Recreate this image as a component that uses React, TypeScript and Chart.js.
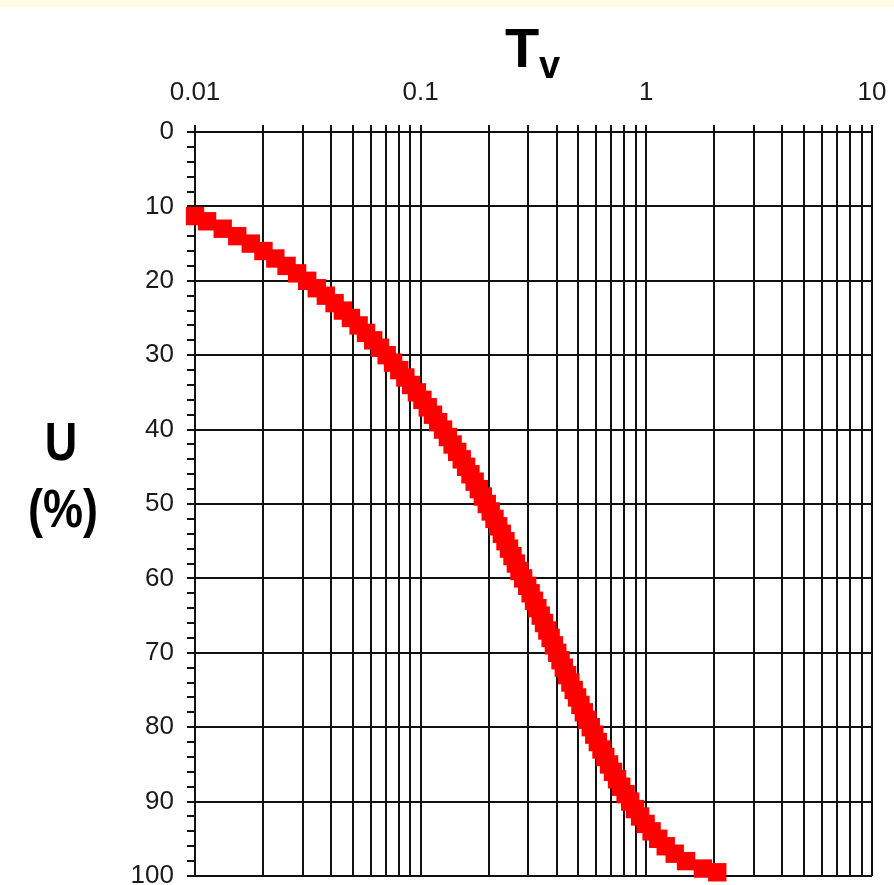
import React, { useEffect, useRef } from 'react';
import { Chart, registerables } from 'chart.js';

Chart.register(...registerables);

// Degree of consolidation U (%)
const degreeU: number[] = [
  11.3, 12, 13, 14, 15, 16, 17, 18, 19, 20,
  21, 22, 23, 24, 25, 26, 27, 28, 29, 30,
  31, 32, 33, 34, 35, 36, 37, 38, 39, 40,
  41, 42, 43, 44, 45, 46, 47, 48, 49, 50,
  51, 52, 53, 54, 55, 56, 57, 58, 59, 60,
  61, 62, 63, 64, 65, 66, 67, 68, 69, 70,
  71, 72, 73, 74, 75, 76, 77, 78, 79, 80,
  81, 82, 83, 84, 85, 86, 87, 88, 89, 90,
  91, 92, 93, 94, 95, 96, 97, 98, 99, 99.5,
];

// Time factor Tv for each point
const timeFactorTv: number[] = [
  0.0100, 0.01131, 0.01327, 0.01539, 0.01767, 0.02011, 0.02270, 0.02545, 0.02835, 0.03142,
  0.03464, 0.03801, 0.04155, 0.04524, 0.04909, 0.05309, 0.05726, 0.06158, 0.06605, 0.07069,
  0.07548, 0.08042, 0.08553, 0.09079, 0.09621, 0.1018, 0.1075, 0.1134, 0.1195, 0.1257,
  0.1320, 0.1385, 0.1452, 0.1521, 0.1590, 0.1662, 0.1735, 0.1810, 0.1886, 0.1963,
  0.2043, 0.2124, 0.2206, 0.2290, 0.2376, 0.2463, 0.2552, 0.2642, 0.2740, 0.2845,
  0.2965, 0.3071, 0.3179, 0.3290, 0.3404, 0.3521, 0.3642, 0.3767, 0.3895, 0.4029,
  0.4166, 0.4308, 0.4455, 0.4608, 0.4767, 0.4933, 0.5105, 0.5285, 0.5474, 0.5672,
  0.5879, 0.6098, 0.6330, 0.6576, 0.6837, 0.7117, 0.7417, 0.7741, 0.8094, 0.8480,
  0.8907, 0.9384, 0.9925, 1.055, 1.129, 1.219, 1.336, 1.500, 1.781, 2.062,
];

const xDecades: number[] = [0.01, 0.1, 1, 10];
const xTickLabels: string[] = ['0.01', '0.1', '1', '10'];
const yMajorTicks: number[] = [0, 10, 20, 30, 40, 50, 60, 70, 80, 90, 100];
const yTickLabels: string[] = ['0', '10', '20', '30', '40', '50', '60', '70', '80', '90', '100'];

const FONT = "'Liberation Sans', Arial, sans-serif";

const decorPlugin = {
  id: 'decor',
  beforeDraw(chart: any) {
    const ctx = chart.ctx;
    ctx.save();
    ctx.fillStyle = '#ffffff';
    ctx.fillRect(0, 0, chart.width, chart.height);
    ctx.fillStyle = '#fffde3';
    ctx.fillRect(0, 0, chart.width, 7);
    ctx.restore();
  },
  afterDraw(chart: any) {
    const ctx = chart.ctx;
    ctx.save();
    ctx.fillStyle = '#000';
    ctx.textBaseline = 'alphabetic';
    ctx.textAlign = 'left';
    ctx.font = `bold 56px ${FONT}`;
    ctx.fillText('T', 505, 67);
    ctx.font = `bold 38px ${FONT}`;
    ctx.fillText('v', 539, 78);

    ctx.textAlign = 'center';
    ctx.font = `bold 45px ${FONT}`;
    ctx.save();
    ctx.translate(61, 460);
    ctx.scale(1, 1.2);
    ctx.fillText('U', 0, 0);
    ctx.restore();
    ctx.save();
    ctx.translate(63, 527);
    ctx.scale(1, 1.2);
    ctx.fillText('(%)', 0, 0);
    ctx.restore();
    ctx.restore();
  },
};

export default function App() {
  const canvasRef = useRef<HTMLCanvasElement | null>(null);

  useEffect(() => {
    if (!canvasRef.current) return;
    const points = degreeU.map((u, i) => ({ x: timeFactorTv[i], y: u }));
    const chart = new Chart(canvasRef.current, {
      type: 'scatter',
      data: {
        datasets: [
          {
            data: points,
            pointStyle: 'rect',
            pointRadius: 13,
            pointHoverRadius: 13,
            pointBackgroundColor: '#ff0000',
            pointBorderWidth: 0,
            showLine: false,
            clip: false,
          } as any,
        ],
      },
      options: {
        responsive: false,
        animation: false,
        devicePixelRatio: 1,
        layout: { autoPadding: false, padding: { top: 0, left: 0, right: 22, bottom: 9 } },
        plugins: {
          legend: { display: false },
          tooltip: { enabled: false },
          title: { display: false },
        },
        events: [],
        scales: {
          x: {
            type: 'logarithmic',
            position: 'top',
            min: 0.01,
            max: 10,
            afterBuildTicks: (scale: any) => {
              scale.ticks = scale.ticks.filter((t: any) => {
                const e = Math.floor(Math.log10(t.value) + 1e-9);
                const m = t.value / Math.pow(10, e);
                return Math.abs(m - Math.round(m)) < 1e-6;
              });
            },
            afterFit: (scale: any) => {
              scale.height = 132;
              scale.paddingLeft = 0;
              scale.paddingRight = 0;
              scale.paddingTop = 0;
              scale.paddingBottom = 0;
            },
            grid: {
              color: '#111',
              lineWidth: 2,
              tickLength: 7,
              drawTicks: true,
              tickColor: '#111',
            },
            border: { display: true, color: '#111', width: 2 },
            ticks: {
              autoSkip: false,
              maxRotation: 0,
              minRotation: 0,
              padding: 17,
              color: '#1a1a1a',
              font: { family: FONT, size: 26 },
              callback: (value: any) => {
                const v = Number(value);
                const i = xDecades.findIndex((d) => Math.abs(v - d) / d < 1e-6);
                return i >= 0 ? xTickLabels[i] : '';
              },
            },
          },
          y: {
            type: 'linear',
            reverse: true,
            min: 0,
            max: 100,
            afterFit: (scale: any) => {
              scale.width = 195;
              scale.paddingLeft = 0;
              scale.paddingRight = 0;
              scale.paddingTop = 0;
              scale.paddingBottom = 0;
            },
            grid: {
              color: (ctx: any) =>
                ctx.tick && yMajorTicks.includes(Math.round(ctx.tick.value)) ? '#111' : 'rgba(0,0,0,0)',
              tickColor: '#111',
              lineWidth: 2,
              tickLength: 8,
            },
            border: { display: true, color: '#111', width: 2 },
            ticks: {
              stepSize: 2,
              autoSkip: false,
              padding: 13,
              color: '#1a1a1a',
              font: { family: FONT, size: 26 },
              callback: (value: any) => {
                const i = yMajorTicks.indexOf(Math.round(Number(value)));
                return i >= 0 && Math.abs(Number(value) - yMajorTicks[i]) < 1e-6 ? yTickLabels[i] : '';
              },
            },
          },
        },
      },
      plugins: [decorPlugin],
    });
    return () => chart.destroy();
  }, []);

  return (
    <div style={{ position: 'absolute', left: 0, top: 0, width: 894, height: 885 }}>
      <canvas ref={canvasRef} width={894} height={885} style={{ display: 'block', width: 894, height: 885 }} />
    </div>
  );
}
